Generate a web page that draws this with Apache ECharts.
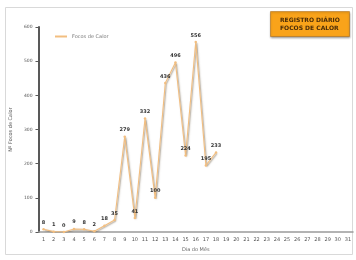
<!DOCTYPE html>
<html>
<head>
<meta charset="utf-8">
<script src="https://cdn.jsdelivr.net/npm/echarts@6/dist/echarts.min.js"></script>
<style>html,body{margin:0;padding:0;background:#fff}#c{width:356px;height:260px}</style>
</head>
<body>
<div id="c"></div>
<script>
const days = ['1','2','3','4','5','6','7','8','9','10','11','12','13','14','15','16','17','18','19','20','21','22','23','24','25','26','27','28','29','30','31'];
const focos = [8,1,0,9,8,2,18,35,279,41,332,100,436,496,224,556,195,233,null,null,null,null,null,null,null,null,null,null,null,null,null];
const yTicks = [0,100,200,300,400,500,600];
const seriesName = 'Focos de Calor';
const titleText = 'REGISTRO DIÁRIO\nFOCOS DE CALOR';

const chart = echarts.init(document.getElementById('c'), null, {renderer:'canvas'});
chart.setOption({
  animation:false,
  backgroundColor:'#fff',
  title:{
    text:titleText, left:270, top:11,
    backgroundColor:'#F9A31A', borderColor:'#A8650C', borderWidth:0.5,
    padding:[5,10], shadowColor:'rgba(0,0,0,0.35)', shadowBlur:2, shadowOffsetY:1,
    textStyle:{fontSize:6, fontWeight:'bold', color:'#4a2c08', lineHeight:8, fontFamily:'DejaVu Sans', align:'center'}
  },
  legend:{
    left:50, top:29, itemWidth:12, itemHeight:2, itemGap:4,
    icon:'rect',
    textStyle:{fontSize:5, color:'#777', fontFamily:'DejaVu Sans'},
    data:[seriesName]
  },
  graphic:[{type:'rect', shape:{x:5.5, y:7.5, width:347, height:247}, style:{fill:'none', stroke:'#d9d9d9', lineWidth:1}, silent:true, z:-1}],
  grid:{left:37, right:3, top:27, bottom:28},
  xAxis:{
    type:'category', data:days, boundaryGap:true,
    name:'Dia do Mês', nameLocation:'middle', nameGap:13,
    nameTextStyle:{fontSize:5, color:'#666', fontFamily:'DejaVu Sans'},
    axisLine:{lineStyle:{color:'#9a9a9a', width:1.5}},
    axisTick:{show:false},
    axisLabel:{fontSize:5, color:'#555', margin:5, interval:0, fontFamily:'DejaVu Sans'}
  },
  yAxis:{
    type:'value', min:yTicks[0], max:yTicks[yTicks.length-1], interval:100,
    name:'Nº Focos de Calor', nameLocation:'middle', nameGap:16, nameRotate:90,
    nameTextStyle:{fontSize:5, color:'#555', fontFamily:'DejaVu Sans'},
    axisLine:{show:true, lineStyle:{color:'#595959', width:2}},
    axisTick:{show:true, length:3, lineStyle:{color:'#595959'}},
    axisLabel:{fontSize:4.5, color:'#555', margin:6, fontFamily:'DejaVu Sans'},
    splitLine:{show:false}
  },
  series:[{
    name:seriesName, type:'line', data:focos, connectNulls:false,
    symbol:'circle', symbolSize:2.5,
    itemStyle:{color:'#F2BE80'},
    lineStyle:{color:'#F2BE80', width:1.1, shadowColor:'rgba(90,70,40,0.55)', shadowBlur:1.5, shadowOffsetX:1, shadowOffsetY:1},
    label:{show:true, position:'top', distance:3, fontSize:5, fontWeight:'bold', color:'#333', fontFamily:'DejaVu Sans'}
  }]
});
</script>
</body>
</html>
